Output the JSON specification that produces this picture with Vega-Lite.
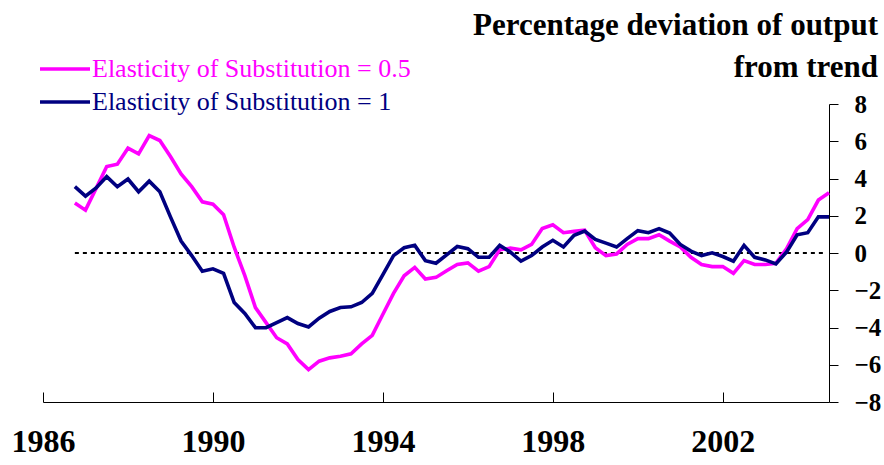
{
  "$schema": "https://vega.github.io/schema/vega-lite/v6.json",
  "width": 786,
  "height": 298,
  "autosize": "none",
  "padding": {"left": 43, "top": 104, "right": 55, "bottom": 63},
  "background": "white",
  "config": {"view": {"stroke": null}, "font": "Liberation Serif"},
  "title": {
    "text": ["Percentage deviation of output", "from trend"],
    "anchor": "end",
    "frame": "group",
    "orient": "top",
    "dx": 49,
    "offset": -28,
    "fontSize": 31,
    "fontWeight": "bold",
    "font": "Liberation Serif",
    "color": "black",
    "lineHeight": 42,
    "limit": 0
  },
  "data": {
    "values": [
      {"t": 1986.75, "e05": 2.69, "e1": 3.56},
      {"t": 1987.0, "e05": 2.30, "e1": 3.05},
      {"t": 1987.25, "e05": 3.47, "e1": 3.49},
      {"t": 1987.5, "e05": 4.64, "e1": 4.10},
      {"t": 1987.75, "e05": 4.77, "e1": 3.56},
      {"t": 1988.0, "e05": 5.63, "e1": 3.97},
      {"t": 1988.25, "e05": 5.32, "e1": 3.29},
      {"t": 1988.5, "e05": 6.30, "e1": 3.86},
      {"t": 1988.75, "e05": 6.04, "e1": 3.29},
      {"t": 1989.0, "e05": 5.18, "e1": 1.94},
      {"t": 1989.25, "e05": 4.24, "e1": 0.64},
      {"t": 1989.5, "e05": 3.56, "e1": -0.14},
      {"t": 1989.75, "e05": 2.75, "e1": -0.98},
      {"t": 1990.0, "e05": 2.62, "e1": -0.85},
      {"t": 1990.25, "e05": 2.06, "e1": -1.09},
      {"t": 1990.5, "e05": 0.31, "e1": -2.66},
      {"t": 1990.75, "e05": -1.22, "e1": -3.25},
      {"t": 1991.0, "e05": -2.93, "e1": -4.01},
      {"t": 1991.25, "e05": -3.74, "e1": -4.01},
      {"t": 1991.5, "e05": -4.55, "e1": -3.74},
      {"t": 1991.75, "e05": -4.88, "e1": -3.47},
      {"t": 1992.0, "e05": -5.72, "e1": -3.79},
      {"t": 1992.25, "e05": -6.26, "e1": -3.97},
      {"t": 1992.5, "e05": -5.81, "e1": -3.50},
      {"t": 1992.75, "e05": -5.63, "e1": -3.14},
      {"t": 1993.0, "e05": -5.54, "e1": -2.93},
      {"t": 1993.25, "e05": -5.41, "e1": -2.89},
      {"t": 1993.5, "e05": -4.88, "e1": -2.66},
      {"t": 1993.75, "e05": -4.42, "e1": -2.17},
      {"t": 1994.0, "e05": -3.29, "e1": -1.16},
      {"t": 1994.25, "e05": -2.17, "e1": -0.14},
      {"t": 1994.5, "e05": -1.22, "e1": 0.28},
      {"t": 1994.75, "e05": -0.77, "e1": 0.41},
      {"t": 1995.0, "e05": -1.40, "e1": -0.41},
      {"t": 1995.25, "e05": -1.31, "e1": -0.55},
      {"t": 1995.5, "e05": -0.95, "e1": -0.10},
      {"t": 1995.75, "e05": -0.62, "e1": 0.35},
      {"t": 1996.0, "e05": -0.53, "e1": 0.23},
      {"t": 1996.25, "e05": -0.98, "e1": -0.23},
      {"t": 1996.5, "e05": -0.73, "e1": -0.23},
      {"t": 1996.75, "e05": 0.17, "e1": 0.41},
      {"t": 1997.0, "e05": 0.26, "e1": 0.05},
      {"t": 1997.25, "e05": 0.17, "e1": -0.44},
      {"t": 1997.5, "e05": 0.46, "e1": -0.14},
      {"t": 1997.75, "e05": 1.31, "e1": 0.32},
      {"t": 1998.0, "e05": 1.52, "e1": 0.68},
      {"t": 1998.25, "e05": 1.09, "e1": 0.32},
      {"t": 1998.5, "e05": 1.16, "e1": 0.95},
      {"t": 1998.75, "e05": 1.22, "e1": 1.18},
      {"t": 1999.0, "e05": 0.28, "e1": 0.73},
      {"t": 1999.25, "e05": -0.14, "e1": 0.53},
      {"t": 1999.5, "e05": -0.05, "e1": 0.32},
      {"t": 1999.75, "e05": 0.46, "e1": 0.77},
      {"t": 2000.0, "e05": 0.77, "e1": 1.20},
      {"t": 2000.25, "e05": 0.77, "e1": 1.09},
      {"t": 2000.5, "e05": 0.98, "e1": 1.31},
      {"t": 2000.75, "e05": 0.64, "e1": 1.07},
      {"t": 2001.0, "e05": 0.32, "e1": 0.46},
      {"t": 2001.25, "e05": -0.23, "e1": 0.10},
      {"t": 2001.5, "e05": -0.62, "e1": -0.14},
      {"t": 2001.75, "e05": -0.73, "e1": 0.01},
      {"t": 2002.0, "e05": -0.73, "e1": -0.19},
      {"t": 2002.25, "e05": -1.09, "e1": -0.44},
      {"t": 2002.5, "e05": -0.41, "e1": 0.41},
      {"t": 2002.75, "e05": -0.62, "e1": -0.23},
      {"t": 2003.0, "e05": -0.62, "e1": -0.37},
      {"t": 2003.25, "e05": -0.55, "e1": -0.59},
      {"t": 2003.5, "e05": 0.23, "e1": 0.05},
      {"t": 2003.75, "e05": 1.31, "e1": 0.98},
      {"t": 2004.0, "e05": 1.79, "e1": 1.09},
      {"t": 2004.25, "e05": 2.84, "e1": 1.94},
      {"t": 2004.5, "e05": 3.23, "e1": 1.94}
    ]
  },
  "encoding": {
    "x": {
      "field": "t",
      "type": "quantitative",
      "scale": {"domain": [1986, 2004.5], "nice": false, "zero": false},
      "axis": {
        "values": [1986, 1990, 1994, 1998, 2002],
        "format": "d",
        "title": null,
        "grid": false,
        "tickSize": -10,
        "tickWidth": 1,
        "tickColor": "black",
        "domainColor": "black",
        "domainWidth": 1,
        "labelFlush": false,
        "labelOverlap": false,
        "labelPadding": 34,
        "labelFont": "Liberation Serif",
        "labelFontSize": 32,
        "labelFontWeight": "bold",
        "labelColor": "black"
      }
    },
    "y": {
      "field": "value",
      "type": "quantitative",
      "scale": {"domain": [-8, 8], "nice": false, "zero": false},
      "axis": {
        "orient": "right",
        "values": [-8, -6, -4, -2, 0, 2, 4, 6, 8],
        "title": null,
        "grid": false,
        "tickSize": 9,
        "tickWidth": 1,
        "tickColor": "black",
        "domainColor": "black",
        "domainWidth": 1,
        "labelFlush": false,
        "labelOverlap": false,
        "labelPadding": 16,
        "labelAlign": "left",
        "labelFont": "Liberation Serif",
        "labelFontSize": 25,
        "labelFontWeight": "bold",
        "labelColor": "black"
      }
    }
  },
  "layer": [
    {
      "data": {"values": [{"t": 1986.75, "t2": 2004.4, "value": 0}]},
      "mark": {"type": "rule", "strokeDash": [4, 4], "strokeWidth": 2, "color": "black"},
      "encoding": {"x2": {"field": "t2"}}
    },
    {
      "transform": [{"fold": ["e05", "e1"], "as": ["series", "value"]}],
      "mark": {"type": "line", "strokeWidth": 3.6, "strokeJoin": "miter"},
      "encoding": {
        "color": {
          "field": "series",
          "type": "nominal",
          "scale": {"domain": ["e05", "e1"], "range": ["#FF00FF", "#000080"]},
          "legend": {
            "orient": "none",
            "legendX": 9,
            "legendY": -48,
            "title": null,
            "padding": 0,
            "symbolType": "M-5,0H5",
            "symbolSize": 100,
            "symbolStrokeWidth": 3.6,
            "labelOffset": 14,
            "rowPadding": 7,
            "labelLimit": 0,
            "labelFont": "Liberation Serif",
            "labelFontSize": 26,
            "labelExpr": "datum.value === 'e05' ? 'Elasticity of Substitution = 0.5' : 'Elasticity of Substitution = 1'",
            "encode": {
              "labels": {
                "update": {
                  "fill": {"signal": "datum.value === 'e05' ? '#FF00FF' : '#000080'"}
                }
              }
            }
          }
        }
      }
    }
  ]
}
